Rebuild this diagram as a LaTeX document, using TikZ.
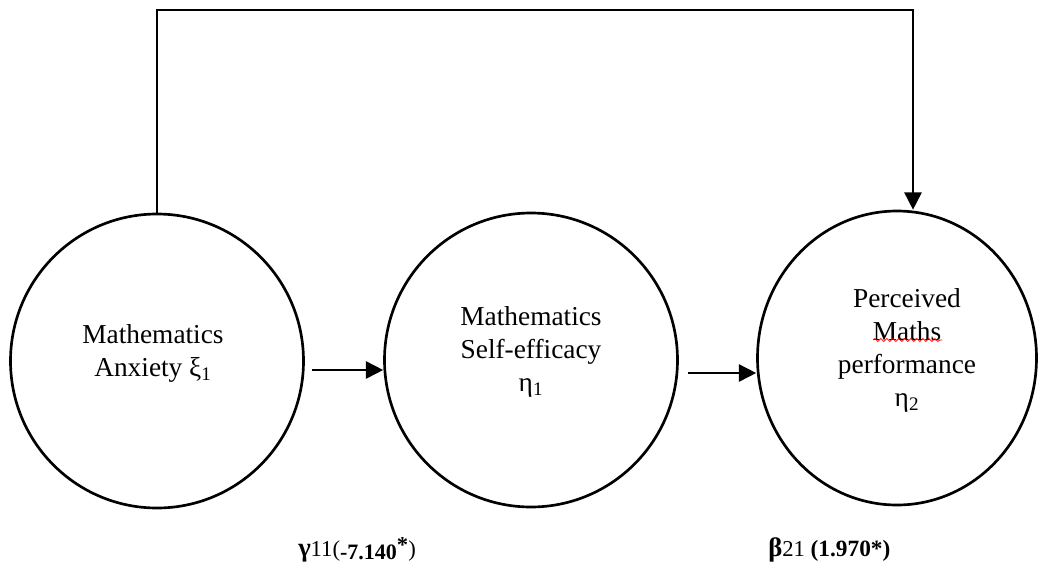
\documentclass[tikz,border=0pt]{standalone}
\usepackage{fontspec}
\setmainfont{Liberation Serif}
\usetikzlibrary{arrows.meta,shapes.geometric,decorations.pathmorphing}

\tikzstyle{var} = [ellipse, draw, line width=2pt, minimum width=219.75pt, minimum height=220.5pt, inner sep=0pt]
\tikzstyle{txt} = [align=center, font=\fontsize{20.5}{24.75}\selectfont, inner sep=0pt]
\tikzstyle{link} = [line width=1.3pt, -{Triangle[length=13pt,width=13pt]}]
\tikzstyle{coef} = [font=\fontsize{17}{20}\selectfont, inner sep=0pt, anchor=base west]
\tikzstyle{spell} = [red, line width=0.6pt, decorate, decoration={snake, amplitude=1.1pt, segment length=4.5pt}]

\begin{document}
\begin{tikzpicture}[x=0.75pt, y=-0.75pt]
\useasboundingbox (0,0) rectangle (1040,565);
%begin variables
\node[var] (anx) at (157,361) {};
\node[var] (eff) at (531,360) {};
\node[var, minimum width=209.25pt] (perf) at (897,358) {};
%end variables
%begin texts
\node[txt] (anxt) at ([xshift=-3pt,yshift=6pt]anx.center) {Mathematics\\Anxiety ξ\textsubscript{1}};
\node[txt] (efft) at ([yshift=6pt]eff.center) {Mathematics\\Self-efficacy\\η\textsubscript{1}};
\node[txt] (perft) at ([xshift=7.5pt,yshift=6pt]perf.center) {Perceived\\Maths\\performance\\η\textsubscript{2}};
\draw[spell] (873,340) -- (942,340);
%end texts
%begin paths
\coordinate (a1) at (312,370);
\coordinate (a2) at (688,373);
\coordinate (top) at (913,10);
\draw[link] (a1) -- (a1 -| eff.west);
\draw[link] (a2) -- (a2 -| perf.west);
\draw[link] (anx.north) |- (top) -- (top |- perf.north);
%end paths
%begin coefficients
\node[coef] (gam) at (298,556) {{\bfseries\fontsize{20}{20}\selectfont γ}11(\raisebox{-2.25pt}{\bfseries\fontsize{16.5}{18}\selectfont -7.140}\raisebox{3pt}{\bfseries *})};
\node[coef] (bet) at (768,556) {{\bfseries\fontsize{20}{20}\selectfont β}21 {\bfseries\fontsize{17.5}{18}\selectfont (1.970*)}};
%end coefficients
\end{tikzpicture}
\end{document}
